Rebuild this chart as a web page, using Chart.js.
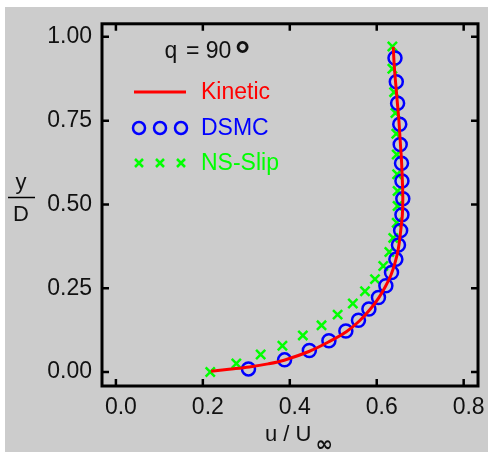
<!DOCTYPE html>
<html>
<head>
<meta charset="utf-8">
<script src="https://cdn.jsdelivr.net/npm/chart.js@4"></script>
<style>
html,body{margin:0;padding:0;background:#ffffff;}
#wrap{position:absolute;left:0;top:0;width:488px;height:452px;}
</style>
</head>
<body>
<div id="wrap"><canvas id="c" width="488" height="452"></canvas></div>
<script>
// ---- data ----
const kineticX = [0.219, 0.26, 0.307, 0.35, 0.387, 0.444, 0.49, 0.53, 0.56, 0.585, 0.605, 0.62, 0.633, 0.643, 0.65, 0.655, 0.659, 0.660, 0.659, 0.657, 0.654, 0.651, 0.647, 0.643, 0.640, 0.638];
const kineticY = [0.002, 0.008, 0.015, 0.024, 0.035, 0.061, 0.09, 0.12, 0.152, 0.187, 0.222, 0.255, 0.29, 0.33, 0.37, 0.42, 0.47, 0.52, 0.57, 0.63, 0.69, 0.75, 0.81, 0.87, 0.92, 0.97];

const dsmcX = [0.305, 0.388, 0.445, 0.490, 0.529, 0.558, 0.582, 0.604, 0.621, 0.634, 0.644, 0.650, 0.655, 0.658, 0.660, 0.658, 0.657, 0.654, 0.653, 0.648, 0.645, 0.642];
const dsmcY = [0.009, 0.036, 0.064, 0.093, 0.122, 0.154, 0.188, 0.222, 0.257, 0.297, 0.336, 0.379, 0.422, 0.469, 0.517, 0.570, 0.623, 0.679, 0.739, 0.802, 0.866, 0.937];

const nsX = [0.217, 0.277, 0.333, 0.383, 0.430, 0.473, 0.510, 0.545, 0.573, 0.596, 0.615, 0.629, 0.638, 0.646, 0.648, 0.648, 0.647, 0.646, 0.645, 0.643, 0.640, 0.636, 0.636];
const nsY = [0.000, 0.025, 0.052, 0.078, 0.109, 0.139, 0.171, 0.204, 0.241, 0.277, 0.316, 0.358, 0.400, 0.445, 0.495, 0.540, 0.590, 0.649, 0.711, 0.773, 0.835, 0.905, 0.971];

const xTicks = [0.0, 0.2, 0.4, 0.6, 0.8];
const yTicks = [0.00, 0.25, 0.50, 0.75, 1.00];

const legendLabels = ['Kinetic', 'DSMC', 'NS-Slip'];
const seriesColors = ['#ff0000', '#0000ff', '#00ff00'];
const xTitle = 'u / U';
const xTitleSub = '\u221e';
const yTitleTop = 'y';
const yTitleBottom = 'D';
const noteSym = 'q';
const noteText = '= 90';
const noteDeg = '\u00b0';
// ---------------------------------------

const pts = (xs, ys) => xs.map((x, i) => ({x: x, y: ys[i]}));
const SANS = '"Liberation Sans", Arial, sans-serif';

const decor = {
  id: 'decor',
  beforeDraw(chart) {
    const ctx = chart.ctx;
    ctx.save();
    ctx.fillStyle = '#ffffff';
    ctx.fillRect(0, 0, chart.width, chart.height);
    ctx.fillStyle = '#cccccc';
    ctx.fillRect(5, 7, chart.width - 5, chart.height - 7);
    ctx.restore();
  },
  afterDraw(chart) {
    const ctx = chart.ctx;
    const a = chart.chartArea;
    const xs = chart.scales.x, ys = chart.scales.y;
    ctx.save();
    // frame
    ctx.strokeStyle = '#000000';
    ctx.lineWidth = 3;
    ctx.strokeRect(a.left, a.top, a.right - a.left, a.bottom - a.top);
    // inward ticks on all sides
    ctx.lineWidth = 2.5;
    const tl = 7;
    ctx.beginPath();
    xTicks.forEach(v => {
      const px = xs.getPixelForValue(v);
      ctx.moveTo(px, a.bottom); ctx.lineTo(px, a.bottom - tl);
      ctx.moveTo(px, a.top); ctx.lineTo(px, a.top + tl);
    });
    yTicks.forEach(v => {
      const py = ys.getPixelForValue(v);
      ctx.moveTo(a.left, py); ctx.lineTo(a.left + tl, py);
      ctx.moveTo(a.right, py); ctx.lineTo(a.right - tl, py);
    });
    ctx.stroke();

    // x axis title
    ctx.fillStyle = '#111111';
    ctx.textBaseline = 'alphabetic';
    ctx.textAlign = 'left';
    ctx.font = '22px ' + SANS;
    ctx.fillText(xTitle, 265, 441);
    const w = ctx.measureText(xTitle).width;
    ctx.font = 'bold 21px "DejaVu Sans", sans-serif';
    ctx.fillText(xTitleSub, 265 + w + 4, 451);

    // y axis title (fraction)
    ctx.font = '22px ' + SANS;
    ctx.textAlign = 'center';
    ctx.fillText(yTitleTop, 21, 189);
    ctx.fillText(yTitleBottom, 21, 221);
    ctx.lineWidth = 1.5;
    ctx.beginPath();
    ctx.moveTo(8, 197.5); ctx.lineTo(35, 197.5);
    ctx.stroke();

    // annotation
    ctx.textAlign = 'left';
    ctx.font = '23px "Liberation Mono", "DejaVu Sans Mono", monospace';
    ctx.fillText(noteSym, 164, 58);
    ctx.font = '23px ' + SANS;
    ctx.fillText(noteText, 186, 58);
    ctx.font = 'bold 38px ' + SANS;
    ctx.fillText(noteDeg, 235, 68);

    // legend
    const lx = [139, 160, 181];
    const ly = [92, 128, 163];
    ctx.font = '23px ' + SANS;
    ctx.textBaseline = 'middle';
    // Kinetic line
    ctx.strokeStyle = seriesColors[0];
    ctx.lineWidth = 3;
    ctx.beginPath(); ctx.moveTo(134, ly[0]); ctx.lineTo(186, ly[0]); ctx.stroke();
    // DSMC circles
    ctx.strokeStyle = seriesColors[1];
    ctx.lineWidth = 2.5;
    lx.forEach(x => { ctx.beginPath(); ctx.arc(x, ly[1], 6, 0, Math.PI * 2); ctx.stroke(); });
    // NS crosses
    ctx.strokeStyle = seriesColors[2];
    ctx.lineWidth = 2.5;
    lx.forEach(x => {
      const r = 4;
      ctx.beginPath();
      ctx.moveTo(x - r, ly[2] - r); ctx.lineTo(x + r, ly[2] + r);
      ctx.moveTo(x - r, ly[2] + r); ctx.lineTo(x + r, ly[2] - r);
      ctx.stroke();
    });
    legendLabels.forEach((t, i) => {
      ctx.fillStyle = seriesColors[i];
      ctx.fillText(t, 201, ly[i] + 1);
    });
    ctx.restore();
  }
};

new Chart(document.getElementById('c'), {
  type: 'scatter',
  data: {
    datasets: [
      {
        label: legendLabels[0], data: pts(kineticX, kineticY), showLine: true,
        borderColor: seriesColors[0], borderWidth: 3, pointRadius: 0, tension: 0.35,
        order: 0
      },
      {
        label: legendLabels[1], data: pts(dsmcX, dsmcY), showLine: false,
        borderColor: seriesColors[1], backgroundColor: 'rgba(0,0,0,0)', borderWidth: 2.5,
        pointStyle: 'circle', pointRadius: 6.5, order: 1
      },
      {
        label: legendLabels[2], data: pts(nsX, nsY), showLine: false,
        borderColor: seriesColors[2], backgroundColor: seriesColors[2], borderWidth: 2.5,
        pointStyle: 'crossRot', pointRadius: 6.5, order: 2
      }
    ]
  },
  options: {
    responsive: false,
    animation: false,
    devicePixelRatio: 1,
    layout: {padding: {left: 0, right: 8, top: 9, bottom: 0}},
    plugins: {legend: {display: false}, tooltip: {enabled: false}},
    scales: {
      x: {
        type: 'linear', min: -0.032, max: 0.833,
        afterBuildTicks: s => { s.ticks = xTicks.map(v => ({value: v})); },
        afterFit: s => { s.height = 66; },
        grid: {display: false, drawTicks: false}, border: {display: false},
        ticks: {
          padding: 8, labelOffset: 5, color: '#111111', font: {family: SANS, size: 23},
          maxRotation: 0, autoSkip: false,
          callback: v => Number(v).toFixed(1)
        }
      },
      y: {
        type: 'linear', min: -0.042, max: 1.039,
        afterBuildTicks: s => { s.ticks = yTicks.map(v => ({value: v})); },
        afterFit: s => { s.width = 102; },
        grid: {display: false, drawTicks: false}, border: {display: false},
        ticks: {
          padding: 10, color: '#111111', font: {family: SANS, size: 23},
          autoSkip: false,
          callback: v => Number(v).toFixed(2)
        }
      }
    }
  },
  plugins: [decor]
});
</script>
</body>
</html>
